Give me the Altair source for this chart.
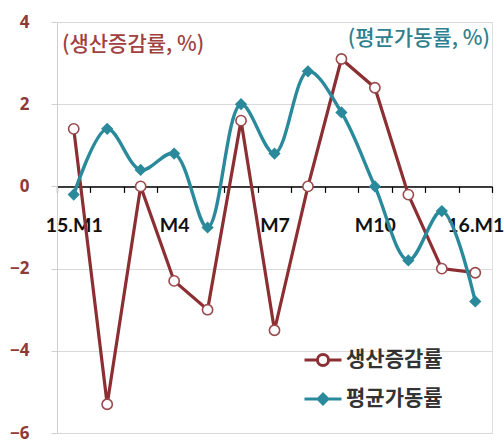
import altair as alt
import pandas as pd

# Monthly series, 2015.01 - 2016.01
months = ["15.M1", "M2", "M3", "M4", "M5", "M6", "M7",
          "M8", "M9", "M10", "M11", "M12", "16.M1"]
production = [1.4, -5.3, 0.0, -2.3, -3.0, 1.6, -3.5, 0.0, 3.1, 2.4, -0.2, -2.0, -2.1]
utilization = [-0.2, 1.4, 0.4, 0.8, -1.0, 2.0, 0.8, 2.8, 1.8, 0.0, -1.8, -0.6, -2.8]
shown_labels = ["15.M1", "M4", "M7", "M10", "16.M1"]
series_names = ["생산증감률", "평균가동률"]
y_ticks = [-6, -4, -2, 0, 2, 4]

RED = "#8c2f33"
TEAL = "#2a8a9c"
W, H = 435, 411

df = pd.DataFrame({
    "month": months * 2,
    "value": production + utilization,
    "series": [series_names[0]] * len(months) + [series_names[1]] * len(months),
})

x_enc = alt.X(
    "month:N", sort=months,
    scale=alt.Scale(type="band", paddingInner=0, paddingOuter=0),
    axis=alt.Axis(
        title=None, orient="bottom", offset=-H * 6 / 10,
        domainColor="#000000", domainWidth=1.5,
        tickColor="#000000", tickSize=6, tickWidth=1.2, tickBand="extent",
        labelAngle=0, labelFont="Lato", labelFontWeight="bold", labelFontSize=19.5,
        labelColor="#111111", labelPadding=24, labelOverlap=False,
        labelExpr="indexof(" + str(shown_labels) + ", datum.label) >= 0 ? datum.label : ''",
        grid=False,
    ),
    bandPosition=0.5,
)
y_enc = alt.Y(
    "value:Q",
    scale=alt.Scale(domain=[-6, 4], nice=False, zero=False),
    axis=alt.Axis(
        title=None, values=y_ticks, format="d",
        domainColor="#cfcfcf", tickColor="#cfcfcf", tickSize=6,
        gridColor="#d9d9d9", gridWidth=1,
        labelFont="Noto Sans", labelFontWeight="bold", labelFontSize=17,
        labelColor="#8e3a36", labelPadding=22,
    ),
)

base = alt.Chart(df).encode(x=x_enc, y=y_enc)

red_line = base.transform_filter(alt.datum.series == series_names[0]).mark_line(
    color=RED, strokeWidth=3.2, interpolate="linear")
red_pts = base.transform_filter(alt.datum.series == series_names[0]).mark_point(
    shape="circle", size=105, filled=True, fill="white", stroke="#9a4a4c",
    strokeWidth=1.6, opacity=1)
teal_line = base.transform_filter(alt.datum.series == series_names[1]).mark_line(
    color=TEAL, strokeWidth=3.4, interpolate="catmull-rom")
teal_pts = base.transform_filter(alt.datum.series == series_names[1]).mark_point(
    shape="diamond", size=150, filled=True, color=TEAL, opacity=1)

# Legend symbols: a line segment with the series marker in the middle
legend_paths = [
    "M-1,0H-0.3M0.3,0H1M-0.3,0A0.3,0.3 0 1,0 0.3,0A0.3,0.3 0 1,0 -0.3,0Z",
    "M-1,0H1M-0.26,0L0,-0.26L0.26,0L0,0.26Z",
]
leg = alt.Legend(
    title=None, orient="none", legendX=246, legendY=318, direction="vertical",
    symbolSize=37 * 37, symbolStrokeWidth=3, symbolOpacity=1,
    labelFont="Noto Sans CJK KR", labelFontSize=21, labelFontWeight="bold",
    labelColor="#333333", labelOffset=3, rowPadding=7, padding=0,
)
legend_layer = alt.Chart(df).transform_filter("false").mark_point(
    filled=False, strokeWidth=3, opacity=1
).encode(
    shape=alt.Shape("series:N", scale=alt.Scale(domain=series_names, range=legend_paths), legend=leg),
    fill=alt.Fill("series:N", scale=alt.Scale(domain=series_names, range=["white", TEAL]), legend=leg),
    stroke=alt.Stroke("series:N", scale=alt.Scale(domain=series_names, range=[RED, TEAL]), legend=leg),
)

note_left = alt.Chart(pd.DataFrame({"t": ["(생산증감률, %)"]})).mark_text(
    align="left", baseline="middle", font="Noto Sans CJK KR", fontSize=21,
    fontWeight=500, color="#a0413f",
).encode(text="t:N", x=alt.value(5), y=alt.value(23))
note_right = alt.Chart(pd.DataFrame({"t": ["(평균가동률, %)"]})).mark_text(
    align="right", baseline="middle", font="Noto Sans CJK KR", fontSize=21,
    fontWeight=500, color="#2f7f8f",
).encode(text="t:N", x=alt.value(W - 2), y=alt.value(17))

chart = alt.layer(
    red_line, red_pts, teal_line, teal_pts, legend_layer, note_left, note_right
).properties(
    width=W, height=H,
    autosize=alt.AutoSizeParams(type="none"),
    padding={"left": 57, "top": 22, "right": 12, "bottom": 10},
).configure_view(stroke="#d9d9d9", strokeWidth=1).configure(background="white")

chart.save("out.html", embed_options={"renderer": "svg", "actions": False})
